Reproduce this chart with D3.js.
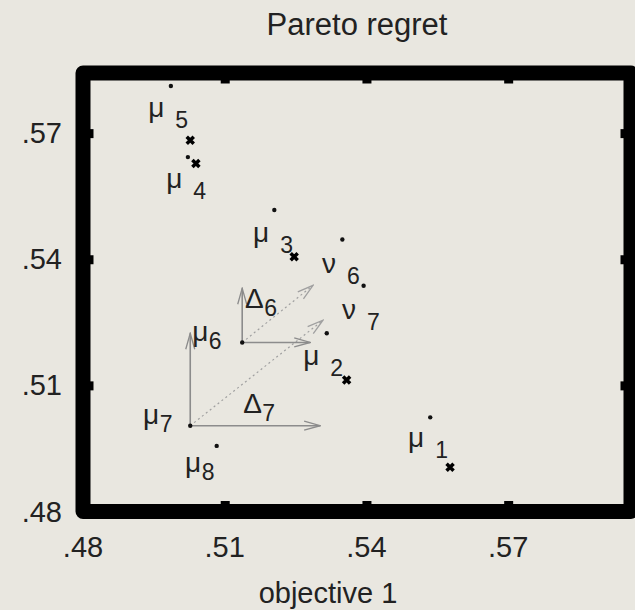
<!DOCTYPE html>
<html>
<head>
<meta charset="utf-8">
<script src="https://cdn.jsdelivr.net/npm/d3@7"></script>
<style>
  html, body { margin: 0; padding: 0; background: #e9e7e0; }
  svg { display: block; font-family: "Liberation Sans", Arial, Helvetica, sans-serif; }
</style>
</head>
<body>
<div id="chart"></div>
<script>
// tick values / labels
const xTicks = [0.48, 0.51, 0.54, 0.57]
const yTicks = [0.48, 0.51, 0.54, 0.57]
const tickLabel = d => d3.format(".2f")(d).replace(/^0/, "")

// small dots (observed means)
const dotX = [0.4986, 0.5022, 0.5205, 0.5349, 0.5394, 0.5316, 0.5535, 0.5083, 0.5137, 0.5027]
const dotY = [0.5812, 0.5643, 0.5517, 0.5447, 0.5337, 0.5224, 0.5024, 0.4956, 0.5202, 0.5004]

// bold crosses (Pareto front)
const crossX = [0.5027, 0.5039, 0.5247, 0.5358, 0.5577]
const crossY = [0.5683, 0.5628, 0.5406, 0.5113, 0.4905]

// arrows: start, end, dotted?
const arrowX0 = [0.5027, 0.5027, 0.5027, 0.5137, 0.5137, 0.5137]
const arrowY0 = [0.5004, 0.5004, 0.5004, 0.5202, 0.5202, 0.5202]
const arrowX1 = [0.5302, 0.5027, 0.5308, 0.5281, 0.5137, 0.5287]
const arrowY1 = [0.5004, 0.5224, 0.5255, 0.5202, 0.5331, 0.5338]
const arrowDotted = [false, false, true, false, false, true]

// point labels: symbol, index, anchor, spaced subscript?
const labelSym = ["μ", "μ", "μ", "ν", "ν", "μ", "μ", "μ", "μ", "μ", "Δ", "Δ"]
const labelSub = ["5", "4", "3", "6", "7", "2", "1", "6", "7", "8", "6", "7"]
const labelX = [0.4938, 0.4976, 0.5160, 0.5306, 0.5348, 0.5266, 0.5488, 0.5031, 0.4927, 0.5016, 0.5143, 0.5139]
const labelY = [0.5739, 0.5570, 0.5441, 0.5368, 0.5258, 0.5149, 0.4954, 0.5206, 0.5009, 0.4895, 0.5284, 0.5034]
const labelSpaced = [true, true, true, true, true, true, true, false, false, false, false, false]

const W = 635, H = 610
const x = d3.scaleLinear().domain([0.48, 0.596]).range([83, 631])
const y = d3.scaleLinear().domain([0.48, 0.5843]).range([511.5, 73])

const svg = d3.select("#chart").append("svg")
    .attr("width", W)
    .attr("height", H)

svg.append("rect").attr("width", W).attr("height", H).attr("fill", "#e9e7e0")

svg.append("text")
    .attr("x", (x.range()[0] + x.range()[1]) / 2)
    .attr("y", 35)
    .attr("text-anchor", "middle")
    .style("font-size", "31px")
    .attr("fill", "#222")
    .text("Pareto regret")

// arrow heads
const defs = svg.append("defs")
function head(id, color) {
    defs.append("marker")
        .attr("id", id)
        .attr("viewBox", "0 -6 18 12")
        .attr("refX", 17)
        .attr("refY", 0)
        .attr("markerWidth", 18)
        .attr("markerHeight", 12)
        .attr("markerUnits", "userSpaceOnUse")
        .attr("orient", "auto")
        .append("path")
        .attr("d", "M1,-4.5L17,0L1,4.5")
        .attr("fill", "none")
        .attr("stroke", color)
        .attr("stroke-width", 1.3)
}
head("solid", "#8c8c8c")
head("dots", "#a0a0a0")

const arrows = arrowX0.map((d, i) => ({x0: d, y0: arrowY0[i], x1: arrowX1[i], y1: arrowY1[i], dotted: arrowDotted[i]}))
svg.selectAll(".arrow")
    .data(arrows)
    .join("line")
    .attr("x1", d => x(d.x0))
    .attr("y1", d => y(d.y0))
    .attr("x2", d => x(d.x1))
    .attr("y2", d => y(d.y1))
    .attr("stroke", d => d.dotted ? "#a0a0a0" : "#8c8c8c")
    .attr("stroke-width", d => d.dotted ? 1.2 : 1.6)
    .attr("stroke-dasharray", d => d.dotted ? "2,3" : null)
    .attr("marker-end", d => d.dotted ? "url(#dots)" : "url(#solid)")

svg.selectAll(".dot")
    .data(dotX.map((d, i) => [d, dotY[i]]))
    .join("circle")
    .attr("cx", d => x(d[0]))
    .attr("cy", d => y(d[1]))
    .attr("r", 2.2)
    .attr("fill", "#111")

svg.selectAll(".cross")
    .data(crossX.map((d, i) => [d, crossY[i]]))
    .join("path")
    .attr("d", d => {
        const cx = x(d[0]), cy = y(d[1]), s = 3.5
        return `M${cx - s},${cy - s}L${cx + s},${cy + s}M${cx - s},${cy + s}L${cx + s},${cy - s}`
    })
    .attr("stroke", "#000")
    .attr("stroke-width", 3.5)

const labels = labelSym.map((d, i) => ({sym: d, sub: labelSub[i], x: labelX[i], y: labelY[i], spaced: labelSpaced[i]}))
const lab = svg.selectAll(".lab")
    .data(labels)
    .join("text")
    .attr("x", d => x(d.x))
    .attr("y", d => y(d.y))
    .attr("fill", "#222")
lab.append("tspan")
    .style("font-size", "28px")
    .text(d => d.sym)
lab.append("tspan")
    .style("font-size", "23px")
    .attr("dx", d => d.spaced ? 11 : 0.5)
    .attr("dy", d => d.spaced ? 11 : 8)
    .text(d => d.sub)

// thick frame
svg.append("rect")
    .attr("x", x.range()[0])
    .attr("y", y.range()[1])
    .attr("width", x.range()[1] - x.range()[0])
    .attr("height", y.range()[0] - y.range()[1])
    .attr("fill", "none")
    .attr("stroke", "#000")
    .attr("stroke-width", 15)
    .attr("stroke-linejoin", "round")

// tick nubs inside the frame
const nub = 10.5
svg.append("g")
    .attr("transform", `translate(0,${y.range()[0]})`)
    .call(d3.axisBottom(x).tickValues(xTicks).tickSize(-nub).tickFormat(""))
    .call(g => g.select(".domain").remove())
    .selectAll(".tick line").attr("stroke", "#000").attr("stroke-width", 9)
svg.append("g")
    .attr("transform", `translate(0,${y.range()[1]})`)
    .call(d3.axisTop(x).tickValues(xTicks.slice(1)).tickSize(-nub).tickFormat(""))
    .call(g => g.select(".domain").remove())
    .selectAll(".tick line").attr("stroke", "#000").attr("stroke-width", 9)
svg.append("g")
    .attr("transform", `translate(${x.range()[0]},0)`)
    .call(d3.axisLeft(y).tickValues(yTicks).tickSize(-nub).tickFormat(""))
    .call(g => g.select(".domain").remove())
    .selectAll(".tick line").attr("stroke", "#000").attr("stroke-width", 9)
svg.append("g")
    .attr("transform", `translate(${x.range()[1]},0)`)
    .call(d3.axisRight(y).tickValues(yTicks).tickSize(-nub).tickFormat(""))
    .call(g => g.select(".domain").remove())
    .selectAll(".tick line").attr("stroke", "#000").attr("stroke-width", 9)

// tick labels
svg.selectAll(".xt")
    .data(xTicks)
    .join("text")
    .attr("x", d => x(d))
    .attr("y", 557)
    .attr("text-anchor", "middle")
    .style("font-size", "29px")
    .attr("fill", "#222")
    .text(tickLabel)
svg.selectAll(".yt")
    .data(yTicks)
    .join("text")
    .attr("x", 62)
    .attr("y", d => y(d) + 10)
    .attr("text-anchor", "end")
    .style("font-size", "29px")
    .attr("fill", "#222")
    .text(tickLabel)

svg.append("text")
    .attr("x", 328)
    .attr("y", 603)
    .attr("text-anchor", "middle")
    .style("font-size", "29px")
    .attr("fill", "#222")
    .text("objective 1")
</script>
</body>
</html>
